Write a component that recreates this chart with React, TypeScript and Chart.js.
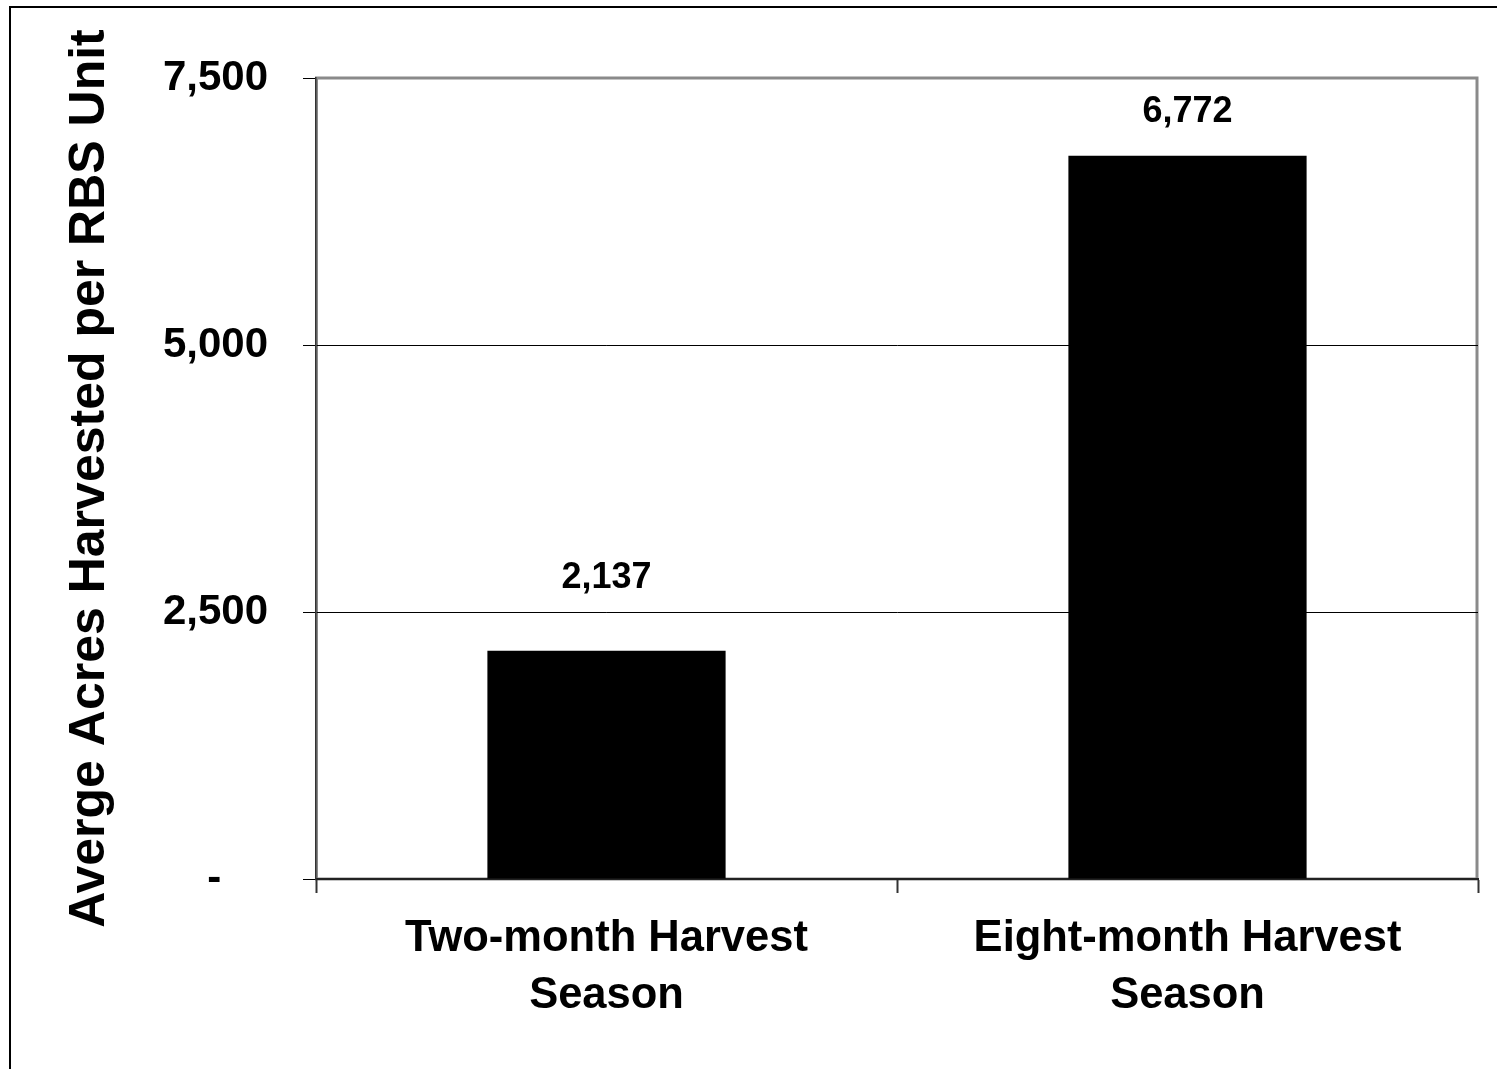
import React, { useEffect, useRef } from "react";
import { Chart, registerables } from "chart.js";

Chart.register(...registerables);

const categories: string[][] = [
  ["Two-month Harvest", "Season"],
  ["Eight-month Harvest", "Season"],
];
const acresValues: number[] = [2137, 6772];
const yTickValues: number[] = [0, 2500, 5000, 7500];
const yAxisTitle = "Averge Acres Harvested per RBS Unit";

const FONT = '"Liberation Sans", Arial, Helvetica, sans-serif';

const fmt = (v: number) => v.toLocaleString("en-US");

const plotBorderPlugin = {
  id: "plotBorder",
  beforeDraw(chart: any) {
    const { ctx, chartArea } = chart;
    ctx.save();
    ctx.strokeStyle = "#8a8a8a";
    ctx.lineWidth = 3;
    ctx.strokeRect(
      chartArea.left + 0.5,
      chartArea.top,
      chartArea.right - chartArea.left - 1.5,
      chartArea.bottom - chartArea.top
    );
    ctx.restore();
  },
};

const valueLabelPlugin = {
  id: "valueLabels",
  afterDatasetsDraw(chart: any, _args: any, opts: any) {
    const { ctx } = chart;
    const meta = chart.getDatasetMeta(0);
    const data = chart.data.datasets[0].data as number[];
    const offsets: number[] = opts.offsets || [];
    ctx.save();
    ctx.fillStyle = "#000";
    ctx.font = `bold ${opts.size}px ${FONT}`;
    ctx.textAlign = "center";
    ctx.textBaseline = "middle";
    meta.data.forEach((el: any, i: number) => {
      ctx.fillText(fmt(data[i]), el.x, el.y - (offsets[i] ?? 55));
    });
    ctx.restore();
  },
};

export default function App() {
  const canvasRef = useRef<HTMLCanvasElement | null>(null);

  useEffect(() => {
    if (!canvasRef.current) return;
    const chart = new Chart(canvasRef.current, {
      type: "bar",
      data: {
        labels: categories,
        datasets: [
          {
            data: acresValues,
            backgroundColor: "#000000",
            borderWidth: 0,
            barPercentage: 0.41,
            categoryPercentage: 1,
          },
        ],
      },
      options: {
        animation: false,
        responsive: false,
        devicePixelRatio: 1,
        events: [],
        layout: { padding: { left: 0, top: 78, right: 19, bottom: 0 } },
        plugins: {
          legend: { display: false },
          tooltip: { enabled: false },
          title: { display: false },
          valueLabels: { size: 36, offsets: [73, 44] },
        } as any,
        scales: {
          x: {
            type: "category",
            offset: true,
            afterFit(scale: any) {
              scale.height = 190;
            },
            grid: {
              offset: true,
              drawOnChartArea: false,
              drawTicks: true,
              tickLength: 14,
              tickColor: "#333333",
              tickWidth: 2,
            },
            border: { display: true, color: "#222222", width: 2 },
            ticks: {
              color: "#000",
              padding: 18,
              maxRotation: 0,
              autoSkip: false,
              font: { family: FONT, size: 43.5, weight: "bold", lineHeight: 1.31 },
            },
          },
          y: {
            min: 0,
            max: 7500,
            afterFit(scale: any) {
              scale.width = 316;
            },
            afterBuildTicks(scale: any) {
              scale.ticks = yTickValues.map((v) => ({ value: v }));
            },
            grid: {
              color: (c: any) =>
                c.tick && (c.tick.value === 0 || c.tick.value === 7500)
                  ? "rgba(0,0,0,0)"
                  : "#000000",
              lineWidth: 1,
              drawTicks: true,
              tickLength: 13,
              tickColor: "#000000",
              tickWidth: 1,
            },
            border: { display: true, color: "#333333", width: 1.5 },
            ticks: {
              color: "#000",
              padding: 35,
              font: { family: FONT, size: 42, weight: "bold" },
              callback: (v: any) => (Number(v) === 0 ? "-    " : fmt(Number(v))),
            },
            title: {
              display: true,
              text: yAxisTitle,
              color: "#000",
              font: { family: FONT, size: 50, weight: "bold", lineHeight: 1.2 },
              padding: { top: 60, bottom: 0 },
            },
          },
        },
      },
      plugins: [plotBorderPlugin, valueLabelPlugin],
    });
    return () => chart.destroy();
  }, []);

  return (
    <div
      style={{
        position: "fixed",
        left: 0,
        top: 0,
        width: 1497,
        height: 1069,
        background: "#ffffff",
        overflow: "hidden",
      }}
    >
      <div
        style={{
          position: "absolute",
          left: 9,
          top: 6,
          width: 1500,
          height: 1080,
          borderTop: "2px solid #000",
          borderLeft: "2px solid #000",
        }}
      />
      <canvas
        ref={canvasRef}
        width={1497}
        height={1069}
        style={{ position: "absolute", left: 0, top: 0, width: 1497, height: 1069 }}
      />
    </div>
  );
}
